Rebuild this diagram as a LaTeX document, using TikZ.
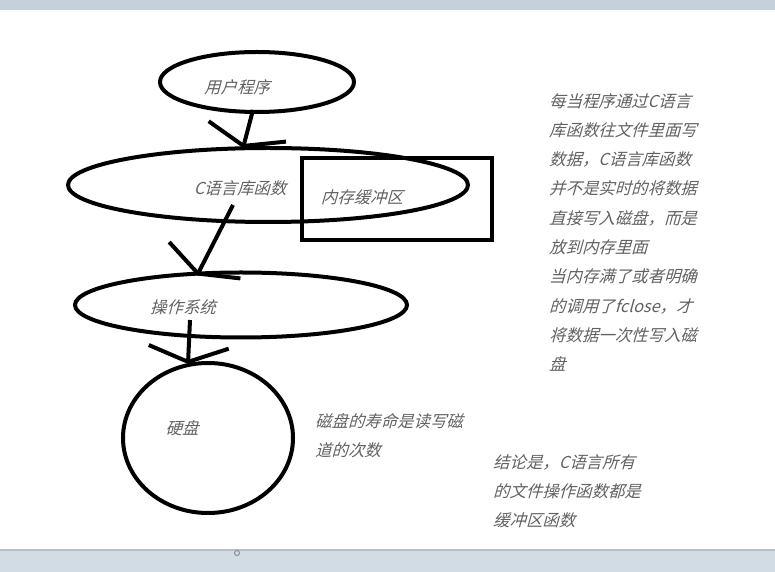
\documentclass[tikz,border=0pt]{standalone}
\usepackage{fontspec}
\newfontfamily\cjk[FakeSlant=0.28]{Noto Sans CJK SC}
\usetikzlibrary{arrows.meta,calc,shapes.geometric}
\definecolor{bandtop}{HTML}{C5D0DC}
\definecolor{bandbot}{HTML}{D2DCE4}
\definecolor{bandedge}{HTML}{B4C0CC}

\begin{document}
\begin{tikzpicture}[x=0.03cm,y=-0.03cm,
	outline/.style={draw, line width=1.2mm, inner sep=0pt},
	oval/.style={outline, ellipse},
	flow/.style={line width=1.2mm, -{Straight Barb[length=4.5mm, width=24mm]}},
	lbl/.style={font=\cjk\fontsize{14pt}{16pt}\selectfont, text=black!62, inner sep=0pt},
	note/.style={lbl, align=left, anchor=north west, font=\cjk\fontsize{14pt}{25pt}\selectfont}]
				\useasboundingbox (0,0) rectangle (775,572);
				% window bands
				\fill[bandtop] (0,0) rectangle (775,10);
				\fill[bandbot] (0,550) rectangle (775,572);
				\draw[bandedge, line width=0.6mm] (0,550) -- (775,550);
				\draw[black!45, line width=0.3mm] (237,553) circle (2.5);
				% shapes
				\node[oval, minimum width=5.82cm, minimum height=1.8cm] (user) at (257,82) {};
				\node[oval, minimum width=12cm, minimum height=2.22cm] (clib) at (268,185) {};
				\node[outline, minimum width=5.7cm, minimum height=2.46cm] (buf) at (397,199) {};
				\node[oval, minimum width=9.96cm, minimum height=1.95cm] (os) at (241,305) {};
				\node[oval, minimum width=5.1cm, minimum height=4.5cm] (disk) at (208,438) {};
				% labels
				\node[lbl] at (237,87) {用户程序};
				\node[lbl] at (240,188) {C语言库函数};
				\node[lbl] at (362,197) {内存缓冲区};
				\node[lbl] at (183,307) {操作系统};
				\node[lbl] at (182,428) {硬盘};
				% arrows
				\draw[flow] ($(user.south)+(-4,-4)$) -- ($(clib.north)+(-25,2)$);
				\draw[flow] ($(clib.center)+(-35,20)$) -- ($(os.north)+(-44,5)$);
				\draw[flow] ($(os.center)+(-51,15)$) -- ($(disk.north)+(-20,3)$);
				% notes
				\node[note] (buftext) at (549,93) {每当程序通过C语言\\库函数往文件里面写\\数据，C语言库函数\\并不是实时的将数据\\直接写入磁盘，而是\\放到内存里面\\当内存满了或者明确\\的调用了fclose，才\\将数据一次性写入磁\\盘};
				\node[note] (disktext) at (315,413) {磁盘的寿命是读写磁\\道的次数};
				\node[note] (endtext) at (493,454) {结论是，C语言所有\\的文件操作函数都是\\缓冲区函数};
			\end{tikzpicture}
\end{document}
